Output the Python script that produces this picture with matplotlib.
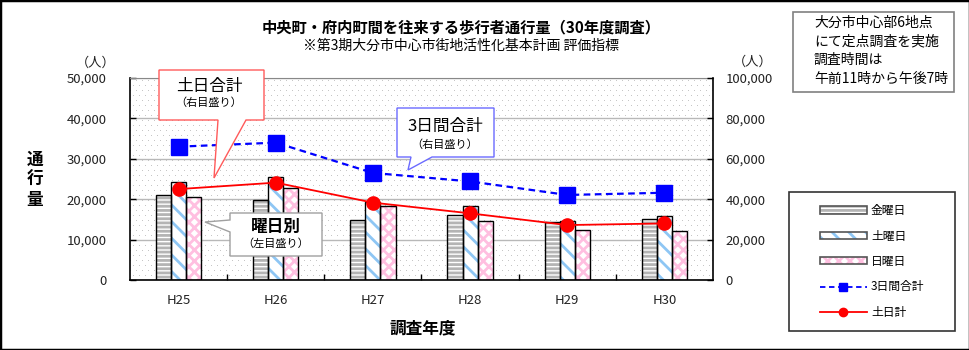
import matplotlib
matplotlib.use('Agg')
import matplotlib.pyplot as plt
import matplotlib.patches as mpatches
from matplotlib.lines import Line2D
from matplotlib.legend_handler import HandlerTuple
from matplotlib.ticker import FuncFormatter, MultipleLocator, FixedLocator
import numpy as np

plt.rcParams['font.family'] = ['Noto Sans CJK JP', 'DejaVu Sans']
plt.rcParams['hatch.linewidth'] = 2.0

# 調査年度ごとの歩行者通行量（人）
years = ['H25', 'H26', 'H27', 'H28', 'H29', 'H30']
friday = [21000, 19800, 14800, 16100, 14400, 15200]
saturday = [24300, 25500, 19300, 18300, 14500, 15800]
sunday = [20600, 22800, 18300, 14600, 12500, 12100]
total_3days = [66000, 68000, 53000, 48800, 42100, 43200]
weekend_total = [45000, 48200, 38300, 33000, 27200, 28000]

W, H = 970, 350
fig = plt.figure(figsize=(W / 100, H / 100), dpi=100)


def px(x, y):
    # pixel position (origin top-left) -> figure fraction
    return x / W, 1 - y / H


ax = fig.add_axes([130 / W, 70 / H, 583 / W, 202 / H])
ax2 = ax.twinx()

# dotted plot-area background (staggered grey dots)
aw, ah = 583, 202
dots = np.zeros((ah, aw, 4))
for r in range(2, ah, 5):
    shift = 3 if (r // 5) % 2 else 0
    dots[r, shift::6] = [0.78, 0.78, 0.78, 1.0]
ax.imshow(dots, extent=(0, 1, 0, 1), transform=ax.transAxes, aspect='auto',
          interpolation='nearest', zorder=0)

x = np.arange(len(years))
bw = 0.155
bar_styles = [
    (friday, -bw, 'white', '#b4b4b4', '----'),
    (saturday, 0.0, 'white', '#8ec6f4', '\\\\'),
    (sunday, bw, 'white', '#ffbfe0', 'xxx'),
]
legend_bars = []
for vals, off, face, hcol, hatch in bar_styles:
    ax.bar(x + off, vals, bw, color=face, edgecolor=hcol,
           hatch=hatch, linewidth=0, zorder=2)
    ax.bar(x + off, vals, bw, fill=False, edgecolor='black',
           linewidth=1.0, zorder=3)
    fill_h = mpatches.Rectangle((0, 0), 1, 1, facecolor=face, edgecolor=hcol,
                                hatch=hatch, linewidth=0)
    edge_h = mpatches.Rectangle((0, 0), 1, 1, fill=False,
                                edgecolor='#555555', linewidth=1.2)
    legend_bars.append((fill_h, edge_h))

ax2.plot(x, total_3days, color='#0000ff', linestyle=(0, (3, 2)), linewidth=1.6,
         marker='s', markersize=11.5, zorder=5)
ax2.plot(x, weekend_total, color='#ff0000', linewidth=1.3,
         marker='o', markersize=9.5, zorder=6)

fmt = FuncFormatter(lambda v, p: f'{v:,.0f}')
ax.set_xlim(-0.5, len(years) - 0.5)
ax.set_ylim(0, 50000)
ax2.set_ylim(0, 100000)
ax.yaxis.set_major_locator(MultipleLocator(10000))
ax2.yaxis.set_major_locator(MultipleLocator(20000))
ax.yaxis.set_major_formatter(fmt)
ax2.yaxis.set_major_formatter(fmt)
ax.set_xticks(x)
ax.set_xticklabels(years)
ax.xaxis.set_minor_locator(FixedLocator(np.arange(0.5, len(years) - 0.5, 1)))
ax.tick_params(axis='x', which='major', length=0, pad=10, labelsize=9.5, labelcolor='#222222')
ax.tick_params(axis='x', which='minor', direction='in', length=4, width=1)
ax.tick_params(axis='y', direction='in', length=4, width=1, pad=17,
               labelsize=9.5, labelcolor='#222222')
ax2.tick_params(axis='y', direction='in', length=4, width=1, pad=9,
                labelsize=9.5, labelcolor='#222222')

ax.yaxis.grid(True, color='#b8b8b8', linewidth=1)
ax.set_axisbelow(True)

for s in ['left', 'bottom']:
    ax.spines[s].set_color('black')
    ax.spines[s].set_linewidth(1.2)
ax.spines['right'].set_visible(False)
ax.spines['top'].set_color('#888888')
ax2.spines['right'].set_color('black')
ax2.spines['right'].set_linewidth(1.2)
for s in ['left', 'top', 'bottom']:
    ax2.spines[s].set_visible(False)

# titles and axis captions
fig.text(*px(461, 27), '中央町・府内町間を往来する歩行者通行量（30年度調査）',
         ha='center', va='center', fontsize=11, fontweight='bold')
fig.text(*px(461, 46), '※第3期大分市中心市街地活性化基本計画 評価指標',
         ha='center', va='center', fontsize=10)
fig.text(*px(96, 63), '（人）', ha='center', va='center', fontsize=9.5, color='#222222')
fig.text(*px(753, 62), '（人）', ha='center', va='center', fontsize=9.5, color='#222222')
fig.text(*px(35, 180), '通\n行\n量', ha='center', va='center', fontsize=12,
         fontweight='bold', linespacing=1.15)
fig.text(*px(423, 328), '調査年度', ha='center', va='center', fontsize=12,
         fontweight='bold')


def callout(points, edge):
    poly = mpatches.Polygon([px(a, b) for a, b in points], closed=True,
                            transform=fig.transFigure, facecolor='white',
                            edgecolor=edge, linewidth=1.0, zorder=10)
    fig.add_artist(poly)


callout([(159, 70), (264, 70), (264, 120), (246, 120), (214, 178),
         (218, 120), (159, 120)], '#ff5a5a')
fig.text(*px(209, 86), '土日合計', ha='center', va='center', fontsize=12, zorder=11)
fig.text(*px(209, 103), '（右目盛り）', ha='center', va='center', fontsize=8, zorder=11)

callout([(397, 108), (494, 108), (494, 157), (432, 157), (408, 170),
         (411, 157), (397, 157)], '#6b6bff')
fig.text(*px(445, 126), '3日間合計', ha='center', va='center', fontsize=12, zorder=11)
fig.text(*px(445, 145), '（右目盛り）', ha='center', va='center', fontsize=8, zorder=11)

callout([(230, 213), (322, 213), (322, 256), (230, 256), (230, 232),
         (205, 222), (230, 220)], '#a0a0a0')
fig.text(*px(276, 227), '曜日別', ha='center', va='center', fontsize=12,
         fontweight='bold', zorder=11)
fig.text(*px(276, 244), '（左目盛り）', ha='center', va='center', fontsize=8, zorder=11)

# survey note box
note = mpatches.Rectangle(px(793, 92), 161 / W, 80 / H, transform=fig.transFigure,
                          fill=False, edgecolor='#808080', linewidth=1.2)
fig.add_artist(note)
note_lines = ['大分市中心部6地点', 'にて定点調査を実施', '調査時間は', '午前11時から午後7時']
for i, line in enumerate(note_lines):
    fig.text(*px(814, 23 + i * 18.7), line, ha='left', va='center', fontsize=10)

# legend
legend_box = mpatches.Rectangle(px(789, 331), 166 / W, 139 / H,
                                transform=fig.transFigure, fill=False,
                                edgecolor='#333333', linewidth=1.2)
fig.add_artist(legend_box)
line_handles = [
    Line2D([], [], color='#0000ff', linestyle=(0, (3, 2)), linewidth=1.3,
           marker='s', markersize=6),
    Line2D([], [], color='#ff0000', linewidth=1.3, marker='o', markersize=6),
]
fig.legend(legend_bars + line_handles,
           ['金曜日', '土曜日', '日曜日', '3日間合計', '土日計'],
           handler_map={tuple: HandlerTuple(ndivide=1, pad=0)},
           loc='center', bbox_to_anchor=px(872, 261.5), frameon=False,
           fontsize=8.5, handlelength=4.0, handleheight=0.55,
           handletextpad=0.35, labelspacing=1.05, numpoints=1)

# outer frame
fig.add_artist(mpatches.Rectangle((0, 0), 1, 1, transform=fig.transFigure,
                                  fill=False, edgecolor='black', linewidth=2.5))

fig.savefig('out.png', dpi=100)
